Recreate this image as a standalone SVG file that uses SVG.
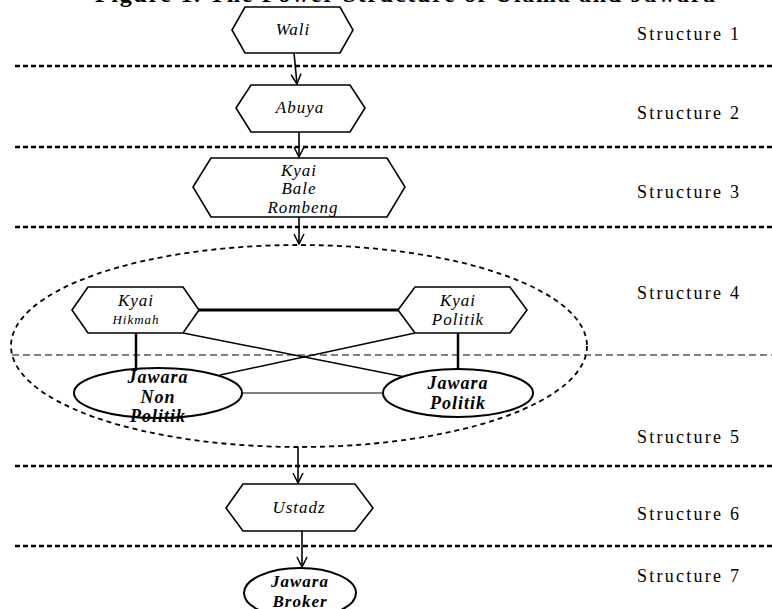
<svg xmlns="http://www.w3.org/2000/svg" width="772" height="609" viewBox="0 0 772 609">
<defs>
<style>
.sep{stroke:#000;stroke-width:2.5;stroke-dasharray:5,3;fill:none}
.thin{stroke:#000;stroke-width:1;stroke-dasharray:7,4;fill:none}
.hex{fill:#fff;stroke:#000;stroke-width:1.6}
.ell{fill:#fff;stroke:#000;stroke-width:2}
.lab{font-family:"Liberation Serif",serif;font-size:18px;fill:#000}
.nt{font-family:"Liberation Serif",serif;font-size:17px;font-style:italic;fill:#000;text-anchor:middle;letter-spacing:1px}
.jt{font-family:"Liberation Serif",serif;font-size:18px;font-style:italic;font-weight:bold;fill:#000;text-anchor:middle;letter-spacing:1px}
.arr{stroke:#000;stroke-width:1.6;fill:none;marker-end:url(#ah)}
</style>
<marker id="ah" viewBox="0 0 12 12" refX="11" refY="6" markerWidth="12" markerHeight="12" markerUnits="userSpaceOnUse" orient="auto">
<path d="M1,1 L11,6 L1,11" fill="none" stroke="#000" stroke-width="1.5"/>
</marker>
</defs>
<rect width="772" height="609" fill="#fff"/>
<text x="95" y="2" font-family="Liberation Serif,serif" font-size="24" font-weight="bold" textLength="620">Figure 1. The Power Structure of Ulama and Jawara</text>
<g id="separators">
<line class="sep" x1="15" y1="66" x2="772" y2="66"/>
<line class="sep" x1="15" y1="147" x2="772" y2="147"/>
<line class="sep" x1="15" y1="227" x2="772" y2="227"/>
<line class="thin" x1="12" y1="355" x2="772" y2="355"/>
<line class="sep" x1="15" y1="466" x2="772" y2="466"/>
<line class="sep" x1="15" y1="546" x2="772" y2="546"/>
</g>
<g id="labels">
<text class="lab" x="637" y="40" textLength="102">Structure 1</text>
<text class="lab" x="637" y="119" textLength="102">Structure 2</text>
<text class="lab" x="637" y="198" textLength="102">Structure 3</text>
<text class="lab" x="637" y="299" textLength="102">Structure 4</text>
<text class="lab" x="637" y="443" textLength="102">Structure 5</text>
<text class="lab" x="637" y="520" textLength="102">Structure 6</text>
<text class="lab" x="637" y="582" textLength="102">Structure 7</text>
</g>
<g id="group-ellipse">
<ellipse cx="299" cy="346" rx="288" ry="101" fill="none" stroke="#000" stroke-width="1.8" stroke-dasharray="5,4"/>
</g>
<g id="connectors">
<line class="arr" x1="294" y1="53" x2="297" y2="84"/>
<line class="arr" x1="299" y1="132" x2="299" y2="157"/>
<line class="arr" x1="299" y1="217" x2="299" y2="244"/>
<line class="arr" x1="298" y1="447" x2="298" y2="483"/>
<line class="arr" x1="302" y1="531" x2="302" y2="567"/>
<line x1="199" y1="310" x2="398" y2="310" stroke="#000" stroke-width="3"/>
<line x1="183" y1="333" x2="405" y2="377" stroke="#000" stroke-width="1.5"/>
<line x1="415" y1="333" x2="220" y2="375" stroke="#000" stroke-width="1.5"/>
<line x1="136" y1="333" x2="136" y2="368" stroke="#000" stroke-width="2.5"/>
<line x1="458" y1="333" x2="458" y2="369" stroke="#000" stroke-width="2.5"/>
<line x1="242" y1="393" x2="383" y2="393" stroke="#000" stroke-width="1"/>
</g>
<g id="wali">
<polygon class="hex" points="232,30 245,7 340,7 353,30 340,53 245,53"/>
<text class="nt" x="293" y="35">Wali</text>
</g>
<g id="abuya">
<polygon class="hex" points="236,108 251,85 350,85 365,108 350,132 251,132"/>
<text class="nt" x="300" y="113">Abuya</text>
</g>
<g id="kyai-bale-rombeng">
<polygon class="hex" points="193,187 211,158 387,158 405,187 387,217 211,217"/>
<text class="nt" x="299" y="176">Kyai</text>
<text class="nt" x="299" y="194">Bale</text>
<text class="nt" x="303" y="213">Rombeng</text>
</g>
<g id="kyai-hikmah">
<polygon class="hex" points="72,310 88,287 183,287 199,310 183,333 88,333"/>
<text class="nt" x="136" y="306">Kyai</text>
<text class="nt" x="136" y="324" style="font-size:13px">Hikmah</text>
</g>
<g id="kyai-politik">
<polygon class="hex" points="398,310 415,287 510,287 527,310 510,333 415,333"/>
<text class="nt" x="458" y="306">Kyai</text>
<text class="nt" x="458" y="325">Politik</text>
</g>
<g id="jawara-non-politik">
<ellipse class="ell" cx="158" cy="393" rx="84" ry="25"/>
<text class="jt" x="158" y="383">Jawara</text>
<text class="jt" x="158" y="403">Non</text>
<text class="jt" x="158" y="422">Politik</text>
</g>
<g id="jawara-politik">
<ellipse class="ell" cx="458" cy="393" rx="75" ry="24"/>
<text class="jt" x="458" y="389">Jawara</text>
<text class="jt" x="458" y="409">Politik</text>
</g>
<g id="ustadz">
<polygon class="hex" points="226,508 243,484 355,484 373,508 355,531 243,531"/>
<text class="nt" x="299" y="513">Ustadz</text>
</g>
<g id="jawara-broker">
<ellipse class="ell" cx="300" cy="593" rx="56" ry="25"/>
<text class="jt" x="300" y="587" style="font-size:17px">Jawara</text>
<text class="jt" x="300" y="607" style="font-size:17px">Broker</text>
</g>
</svg>
